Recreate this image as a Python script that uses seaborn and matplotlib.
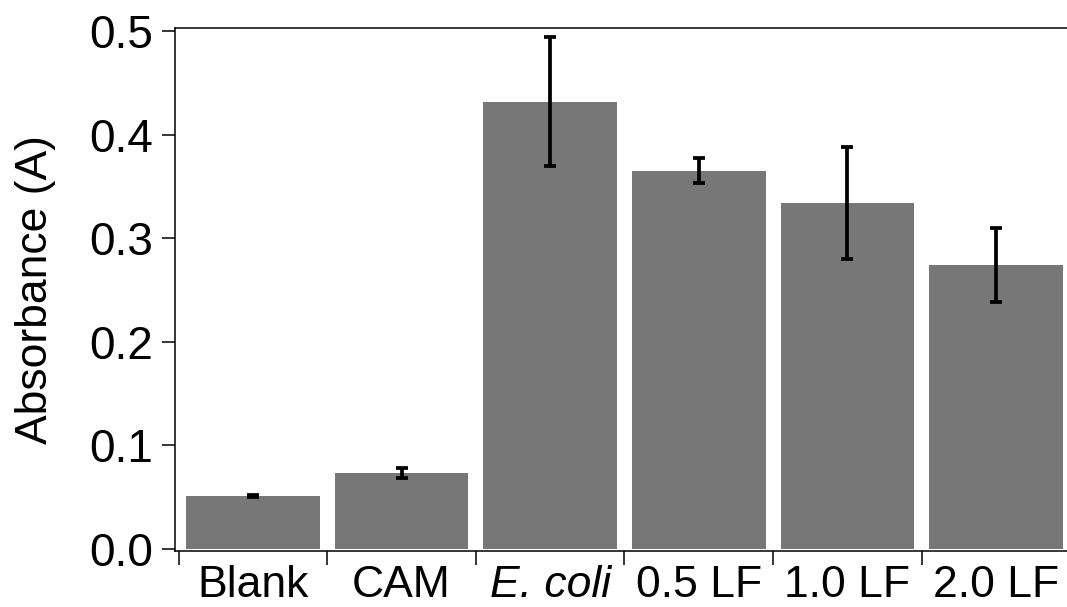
import matplotlib
matplotlib.use("Agg")
import matplotlib.pyplot as plt
import seaborn as sns
import pandas as pd
import numpy as np
from matplotlib.ticker import FixedLocator

categories = ["Blank", "CAM", "E. coli", "0.5 LF", "1.0 LF", "2.0 LF"]
absorbance = [0.051, 0.073, 0.432, 0.365, 0.334, 0.274]
abs_error = [0.001, 0.005, 0.062, 0.012, 0.054, 0.036]
y_ticks = [0.0, 0.1, 0.2, 0.3, 0.4, 0.5]

sns.set_theme(style="white")
plt.rcParams["font.family"] = ["Liberation Sans", "DejaVu Sans"]

df = pd.DataFrame({"group": categories, "absorbance": absorbance})

fig = plt.figure(figsize=(10.67, 6.07), dpi=100)
ax = fig.add_axes([0.164, 0.0923, 0.836, 0.8616])

sns.barplot(data=df, x="group", y="absorbance", order=categories,
            color="#777777", saturation=1, width=0.9, errorbar=None, ax=ax)
for patch in ax.patches:
    patch.set_edgecolor("none")

# mean ± error whiskers on each bar
ax.errorbar(np.arange(len(categories)), absorbance, yerr=abs_error,
            fmt="none", ecolor="black", elinewidth=2.7, capsize=4,
            capthick=2.7, zorder=5)

ax.set_xlim(-0.525, 5.478)
ax.set_ylim(-0.002, 0.503)
ax.set_yticks(y_ticks)
ax.set_yticklabels([f"{t:.1f}" for t in y_ticks])

# labels centred under bars, tick marks on the boundaries between groups
ax.set_xticks(np.arange(len(categories)))
ax.set_xticklabels(categories)
ax.xaxis.set_minor_locator(FixedLocator(np.arange(-0.5, len(categories) - 0.5, 1.0)))
ax.tick_params(axis="x", which="major", length=0, pad=10, labelsize=32, colors="black")
ax.tick_params(axis="x", which="minor", bottom=True, length=10, width=1.1,
               direction="out", color="black")
ax.tick_params(axis="y", which="major", left=True, length=9.5, width=1.1,
               direction="out", pad=6, labelsize=33, colors="black")
ax.get_xticklabels()[2].set_fontstyle("italic")

ax.set_xlabel("")
ax.set_ylabel("Absorbance (A)", fontsize=32, color="black", labelpad=24)

for side in ["left", "bottom", "top"]:
    ax.spines[side].set_visible(True)
    ax.spines[side].set_color("black")
    ax.spines[side].set_linewidth(1.1)
ax.spines["right"].set_visible(False)

fig.savefig("out.png", dpi=100, facecolor="white")
